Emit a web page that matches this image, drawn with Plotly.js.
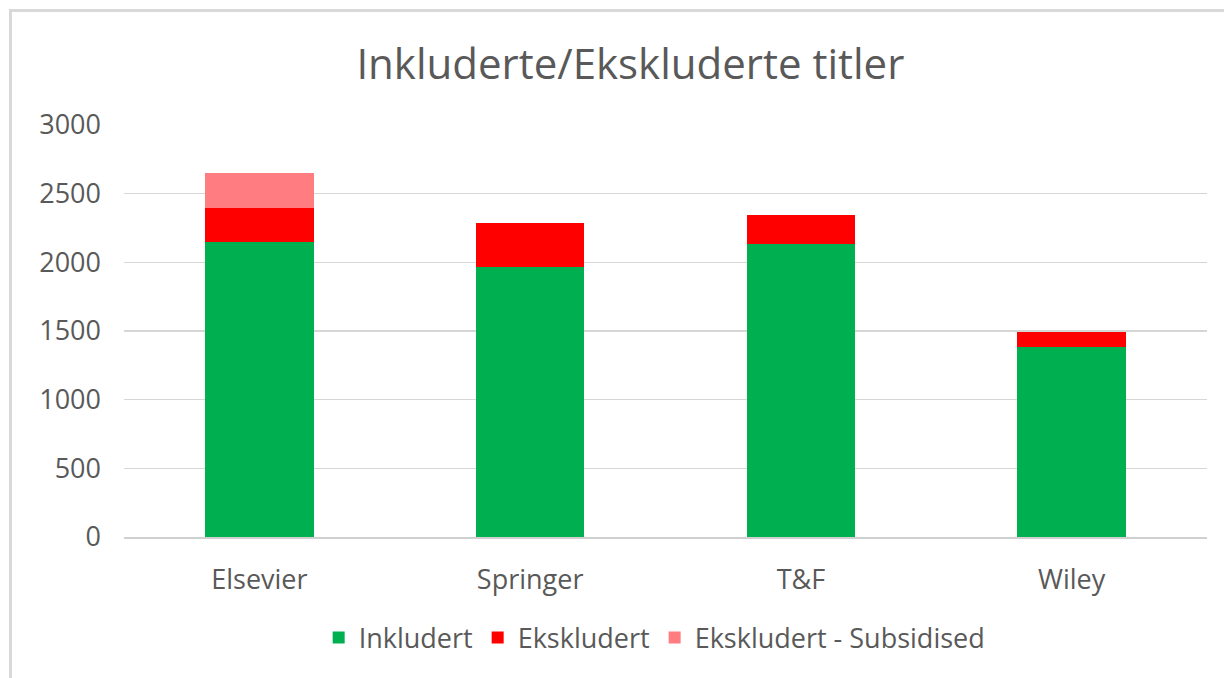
<!DOCTYPE html>
<html>
<head>
<meta charset="utf-8">
<script src="https://cdn.plot.ly/plotly-3.0.1.min.js"></script>
<style>
  html, body { margin: 0; padding: 0; background: #fff; }
  #frame { position: absolute; left: 9px; top: 9px; width: 1215px; height: 669px;
           border-left: 3px solid #d9d9d9; border-top: 3px solid #d9d9d9; box-sizing: border-box; }
  #chart { position: absolute; left: 0; top: 0; width: 1224px; height: 678px; }
</style>
</head>
<body>
<div id="chart"></div>
<div id="frame"></div>
<script>
const categories = ["Elsevier", "Springer", "T&F", "Wiley"];
const inkludert = [2150, 1963, 2135, 1385];
const ekskludert = [247, 325, 207, 107];
const subsidised = [251, 0, 0, 0];
const yTicks = [0, 500, 1000, 1500, 2000, 2500, 3000];

const font = "'Open Sans', 'Noto Sans', sans-serif";
const grey = "#595959";

const traces = [
  { type: "bar", name: "Inkludert", x: categories, y: inkludert, marker: { color: "#00B050" } },
  { type: "bar", name: "Ekskludert", x: categories, y: ekskludert, marker: { color: "#FF0000" } },
  { type: "bar", name: "Ekskludert - Subsidised", x: categories, y: subsidised, marker: { color: "#FF7C80" } }
];

const layout = {
  width: 1224, height: 678,
  barmode: "stack",
  bargap: 0.6,
  paper_bgcolor: "rgba(0,0,0,0)",
  plot_bgcolor: "#fff",
  margin: { l: 124, r: 17, t: 125, b: 141 },
  title: { text: "Inkluderte/Ekskluderte titler", font: { family: font, size: 42, color: grey },
           x: 0.515, xanchor: "center", y: 0.905, yanchor: "middle" },
  font: { family: font, color: grey },
  xaxis: { tickfont: { size: 27, color: grey }, showgrid: false, zeroline: false,
           showline: true, linecolor: "#d0d0d0", linewidth: 1.5, ticks: "", ticklabelstandoff: 18 },
  yaxis: { range: [0, 3000], tickvals: yTicks, ticktext: yTicks.map(String),
           tickfont: { size: 27, color: grey }, gridcolor: "#d6d6d6", gridwidth: 1.5,
           zeroline: false, showline: false, ticklabelstandoff: 22 },
  legend: { orientation: "h", x: 0.49, xanchor: "center", y: -0.245, yanchor: "middle",
            font: { size: 27, color: grey }, itemwidth: 30, traceorder: "normal" },
  showlegend: true
};

Plotly.newPlot("chart", traces, layout, { displayModeBar: false, staticPlot: true });
</script>
</body>
</html>
